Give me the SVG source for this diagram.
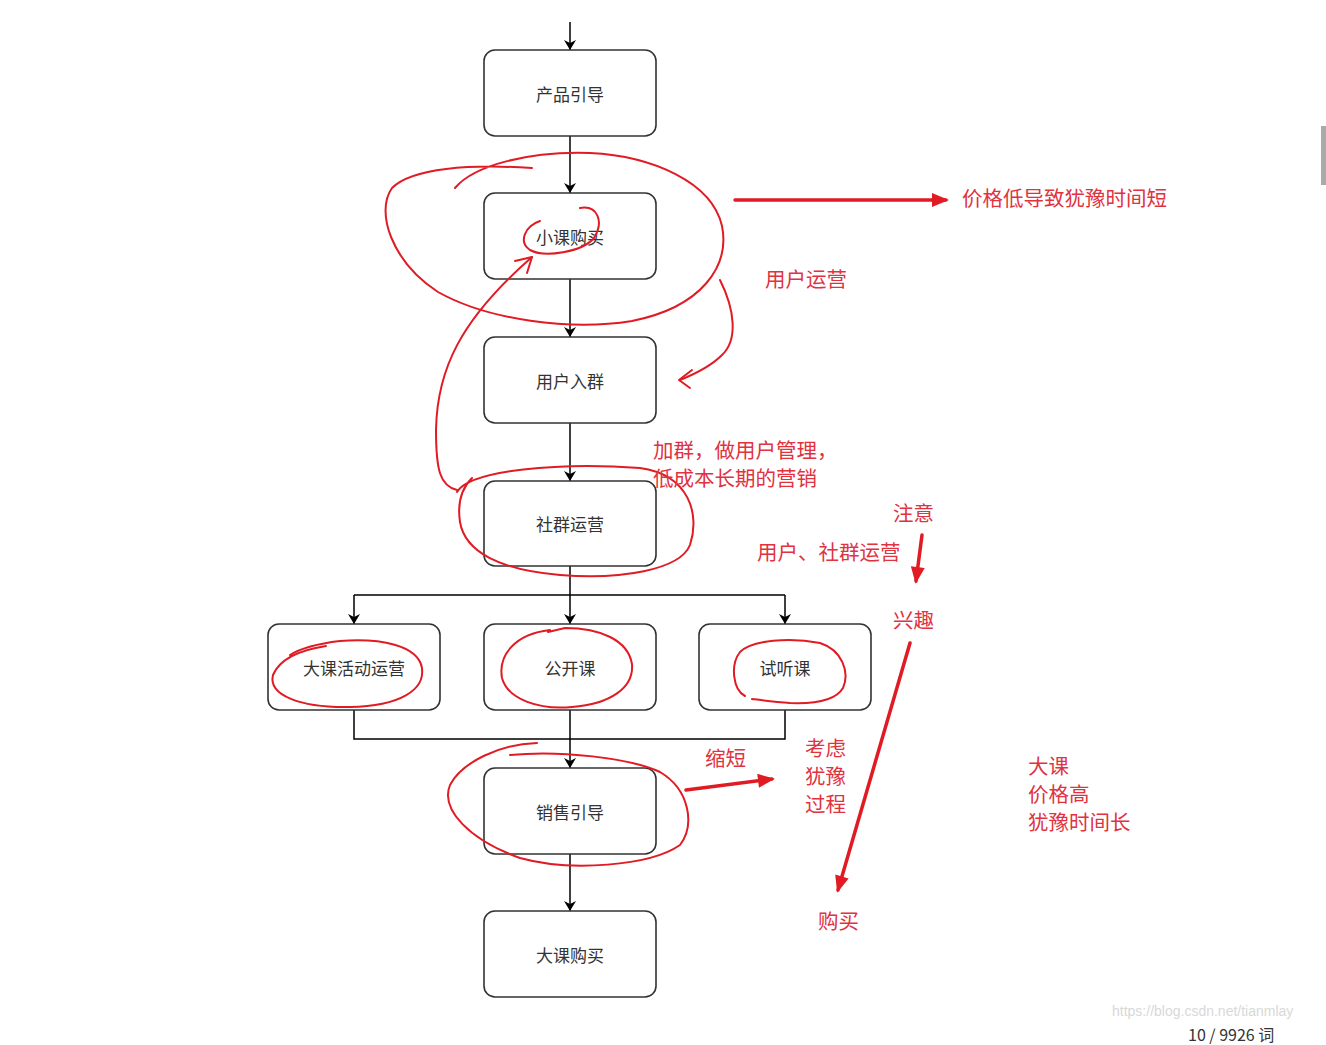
<svg xmlns="http://www.w3.org/2000/svg" width="1326" height="1045" viewBox="0 0 1326 1045">
<defs>
<style>
.box{fill:#fff;stroke:#333;stroke-width:1.6}
.lbl{font-family:"Noto Sans CJK SC","Noto Sans",sans-serif;font-size:17px;fill:#333;text-anchor:middle;dominant-baseline:central}
.con{fill:none;stroke:#000;stroke-width:1.5}
.red{fill:none;stroke:#e01b24;stroke-width:2;stroke-linecap:round;stroke-linejoin:round}
.redthick{fill:none;stroke:#e01b24;stroke-width:3.5;stroke-linecap:round}
.note{font-family:"Noto Sans CJK SC","Noto Sans",sans-serif;font-size:20.5px;fill:#e0323f;dominant-baseline:central}
</style>
<marker id="ah" viewBox="0 0 10 12" refX="10" refY="6" markerWidth="10" markerHeight="12" markerUnits="userSpaceOnUse" orient="auto">
<path d="M0,0 L10,6 L0,12 L3,6 Z" fill="#000"/>
</marker>
<marker id="rh" viewBox="0 0 12 10" refX="10" refY="5" markerWidth="5" markerHeight="4" orient="auto">
<path d="M0,0 L12,5 L0,10 Z" fill="#e01b24"/>
</marker>
</defs>
<rect width="1326" height="1045" fill="#fff"/>

<g id="connectors">
<path class="con" d="M570,22 L570,50" marker-end="url(#ah)"/>
<path class="con" d="M570,136 L570,193" marker-end="url(#ah)"/>
<path class="con" d="M570,279 L570,337" marker-end="url(#ah)"/>
<path class="con" d="M570,423 L570,481" marker-end="url(#ah)"/>
<path class="con" d="M570,566 L570,624" marker-end="url(#ah)"/>
<path class="con" d="M354,595 L785,595"/>
<path class="con" d="M354,595 L354,624" marker-end="url(#ah)"/>
<path class="con" d="M785,595 L785,624" marker-end="url(#ah)"/>
<path class="con" d="M354,710 L354,739 L785,739 L785,710"/>
<path class="con" d="M570,710 L570,768" marker-end="url(#ah)"/>
<path class="con" d="M570,854 L570,911" marker-end="url(#ah)"/>
</g>

<g id="n1"><rect class="box" x="484" y="50" width="172" height="86" rx="11"/><text class="lbl" x="570" y="93">产品引导</text></g>
<g id="n2"><rect class="box" x="484" y="193" width="172" height="86" rx="11"/><text class="lbl" x="570" y="236">小课购买</text></g>
<g id="n3"><rect class="box" x="484" y="337" width="172" height="86" rx="11"/><text class="lbl" x="570" y="380">用户入群</text></g>
<g id="n4"><rect class="box" x="484" y="481" width="172" height="85" rx="11"/><text class="lbl" x="570" y="523">社群运营</text></g>
<g id="n5"><rect class="box" x="268" y="624" width="172" height="86" rx="11"/><text class="lbl" x="354" y="667">大课活动运营</text></g>
<g id="n6"><rect class="box" x="484" y="624" width="172" height="86" rx="11"/><text class="lbl" x="570" y="667">公开课</text></g>
<g id="n7"><rect class="box" x="699" y="624" width="172" height="86" rx="11"/><text class="lbl" x="785" y="667">试听课</text></g>
<g id="n8"><rect class="box" x="484" y="768" width="172" height="86" rx="11"/><text class="lbl" x="570" y="811">销售引导</text></g>
<g id="n9"><rect class="box" x="484" y="911" width="172" height="86" rx="11"/><text class="lbl" x="570" y="954">大课购买</text></g>

<g id="annotations">
<path class="red" d="M532,168 C470,164 412,168 392,188 C375,212 392,262 438,292 C488,320 570,331 632,321 C702,307 730,266 722,226 C712,182 652,156 590,153 C530,151 474,165 455,188"/>
<path class="red" d="M580,208 C598,205 604,222 594,238 C582,252 545,258 530,250 C518,242 525,226 540,221"/>
<path class="red" d="M457,490 C440,486 436,470 436,430 C437,370 460,320 532,257"/>
<path class="red" d="M515,261 L532,257 L527,273"/>
<path class="red" d="M720,280 C735,310 738,340 722,355 C710,367 695,374 680,380"/>
<path class="red" d="M692,370 L679,380 L690,388"/>
<path class="red" d="M457,492 C470,470 560,462 640,468 C690,475 700,515 690,545 C680,570 620,580 560,575 C500,570 465,552 460,522 C457,502 462,488 472,478"/>
<path class="red" d="M326,646 C300,650 280,658 273,675 C268,695 300,708 350,707 C400,706 425,690 422,668 C418,645 380,638 340,641 C315,644 298,650 290,655"/>
<path class="red" d="M550,630 C515,634 498,655 502,678 C508,700 540,710 572,707 C610,704 634,688 632,664 C628,640 600,628 565,628 L548,632"/>
<path class="red" d="M745,696 C733,690 730,665 740,652 C752,640 790,637 820,643 C842,650 850,672 843,688 C836,700 815,704 790,703 C775,702 760,700 752,699"/>
<path class="red" d="M537,743 C500,744 462,762 450,785 C440,810 470,840 520,858 C570,872 650,866 680,845 C695,825 690,790 660,772 C630,758 560,750 510,755"/>
<path class="redthick" d="M735,200 L946,200" marker-end="url(#rh)"/>
<path class="redthick" d="M686,790 L772,779" marker-end="url(#rh)"/>
<path class="redthick" d="M922,535 L916,581" marker-end="url(#rh)"/>
<path class="redthick" d="M910,643 L838,890" marker-end="url(#rh)"/>
<text class="note" x="962" y="197">价格低导致犹豫时间短</text>
<text class="note" x="765" y="278">用户运营</text>
<text class="note" x="653" y="449">加群，做用户管理，</text>
<text class="note" x="653" y="477">低成本长期的营销</text>
<text class="note" x="893" y="512">注意</text>
<text class="note" x="757" y="551">用户、社群运营</text>
<text class="note" x="893" y="619">兴趣</text>
<text class="note" x="705" y="757">缩短</text>
<text class="note" x="805" y="747">考虑</text>
<text class="note" x="805" y="775">犹豫</text>
<text class="note" x="805" y="803">过程</text>
<text class="note" x="818" y="920">购买</text>
<text class="note" x="1028" y="765">大课</text>
<text class="note" x="1028" y="793">价格高</text>
<text class="note" x="1028" y="821">犹豫时间长</text>
</g>

<text x="1112" y="1016" font-family="'Liberation Sans',sans-serif" font-size="14" fill="#d8d8d8">https://blog.csdn.net/tianmlay</text>
<text x="1188" y="1041" font-family="'Noto Sans CJK SC','Noto Sans',sans-serif" font-size="16" fill="#333">10 / 9926 词</text>
<rect x="1321" y="126" width="5" height="59" fill="#aaa"/>
</svg>
